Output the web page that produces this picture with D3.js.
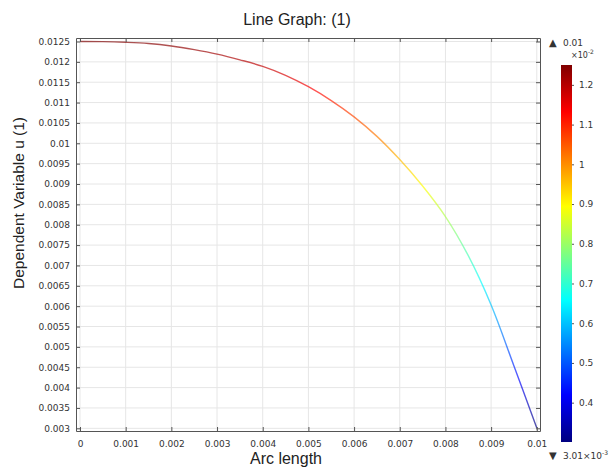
<!DOCTYPE html>
<html>
<head>
<meta charset="utf-8">
<script src="https://cdn.jsdelivr.net/npm/d3@7"></script>
<style>
  body { margin: 0; background: #fff; }
  text { font-family: "DejaVu Sans", sans-serif; fill: #333; }
  .big { font-family: "Liberation Sans", Arial, sans-serif; fill: #222; }
</style>
</head>
<body>
<div id="chart"></div>
<script>
// arc length (m) and dependent variable u
const arcLength = [0, 0.0005, 0.001, 0.0015, 0.002, 0.0025, 0.003, 0.0035, 0.004, 0.0045, 0.005,
                   0.0055, 0.006, 0.0065, 0.007, 0.0075, 0.008, 0.0085, 0.009, 0.0095, 0.01];
const uValues = [0.0125, 0.012497, 0.01248, 0.01245, 0.01239, 0.0123, 0.01219, 0.01205, 0.01189, 0.01167, 0.01139,
                 0.01105, 0.01065, 0.01017, 0.00960, 0.00895, 0.0082, 0.00724, 0.00603, 0.00453, 0.00301];

const xTicks = [0, 0.001, 0.002, 0.003, 0.004, 0.005, 0.006, 0.007, 0.008, 0.009, 0.01];
const yTicks = [0.003, 0.0035, 0.004, 0.0045, 0.005, 0.0055, 0.006, 0.0065, 0.007, 0.0075, 0.008,
                0.0085, 0.009, 0.0095, 0.01, 0.0105, 0.011, 0.0115, 0.012, 0.0125];
const barTicks = [0.004, 0.005, 0.006, 0.007, 0.008, 0.009, 0.01, 0.011, 0.012];
const barTickLabels = ["0.4", "0.5", "0.6", "0.7", "0.8", "0.9", "1", "1.1", "1.2"];
const uMin = 0.00301, uMax = 0.0125;

// jet-like colour table
const jetStops = [
  [0, "#000080"], [0.125, "#0000ff"], [0.375, "#00ffff"],
  [0.625, "#ffff00"], [0.875, "#ff0000"], [1, "#800000"]
];

const W = 614, H = 467;
const plot = { left: 76, right: 540, top: 38, bottom: 431 };

const svg = d3.select("#chart").append("svg")
  .attr("width", W).attr("height", H);

const x = d3.scaleLinear().domain([-0.0000875, 0.01007]).range([plot.left, plot.right]);
const y = d3.scaleLinear().domain([0.002934, 0.012586]).range([plot.bottom, plot.top]);

const defs = svg.append("defs");

// gradient used by the curve (colour follows u, which follows y)
const lineGrad = defs.append("linearGradient")
  .attr("id", "lineGrad").attr("gradientUnits", "userSpaceOnUse")
  .attr("x1", 0).attr("x2", 0).attr("y1", y(uMin)).attr("y2", y(uMax));
lineGrad.selectAll("stop").data(jetStops).enter().append("stop")
  .attr("offset", d => d[0]).attr("stop-color", d => d[1]);

// grid
svg.append("g").selectAll("line").data(xTicks).enter().append("line")
  .attr("x1", d => x(d)).attr("x2", d => x(d))
  .attr("y1", plot.top).attr("y2", plot.bottom)
  .attr("stroke", "#e6e6e6");
svg.append("g").selectAll("line").data(yTicks).enter().append("line")
  .attr("x1", plot.left).attr("x2", plot.right)
  .attr("y1", d => y(d)).attr("y2", d => y(d))
  .attr("stroke", "#e6e6e6");

// curve
const line = d3.line().x(d => x(d[0])).y(d => y(d[1])).curve(d3.curveCatmullRom);
svg.append("path")
  .datum(arcLength.map((s, i) => [s, uValues[i]]))
  .attr("d", line)
  .attr("fill", "none")
  .attr("stroke", "url(#lineGrad)")
  .attr("stroke-opacity", 0.68)
  .attr("stroke-width", 1.4);

// axes, ticks pointing inward
const fmt = d => d === 0 ? "0" : String(+d.toFixed(5));
svg.append("g").attr("transform", `translate(0,${plot.bottom})`)
  .call(d3.axisBottom(x).tickValues(xTicks).tickFormat(fmt).tickSizeInner(-4).tickSizeOuter(0).tickPadding(10));
svg.append("g").attr("transform", `translate(0,${plot.top})`)
  .call(d3.axisTop(x).tickValues(xTicks).tickFormat("").tickSizeInner(-4).tickSizeOuter(0));
svg.append("g").attr("transform", `translate(${plot.left},0)`)
  .call(d3.axisLeft(y).tickValues(yTicks).tickFormat(fmt).tickSizeInner(-4).tickSizeOuter(0).tickPadding(6));
svg.append("g").attr("transform", `translate(${plot.right},0)`)
  .call(d3.axisRight(y).tickValues(yTicks).tickFormat("").tickSizeInner(-4).tickSizeOuter(0));

svg.selectAll(".domain").attr("stroke", "#555");
svg.selectAll(".tick line").attr("stroke", "#555");
svg.selectAll(".tick text").attr("font-family", "DejaVu Sans, sans-serif")
  .attr("font-size", 9).attr("fill", "#333");

// titles
svg.append("text").attr("class", "big")
  .attr("x", 297).attr("y", 25).attr("text-anchor", "middle")
  .attr("font-size", 16).text("Line Graph: (1)");
svg.append("text").attr("class", "big")
  .attr("x", 286).attr("y", 464).attr("text-anchor", "middle")
  .attr("font-size", 16).text("Arc length");
svg.append("text").attr("class", "big")
  .attr("transform", "translate(24,203) rotate(-90)")
  .attr("text-anchor", "middle").attr("font-size", 15.5)
  .text("Dependent Variable u (1)");

// colour bar
const bar = { x: 561, w: 11, top: 65, bottom: 442 };
const cy = d3.scaleLinear().domain([uMin, uMax]).range([bar.bottom, bar.top]);
const barGrad = defs.append("linearGradient")
  .attr("id", "barGrad").attr("x1", 0).attr("x2", 0).attr("y1", 1).attr("y2", 0);
barGrad.selectAll("stop").data(jetStops).enter().append("stop")
  .attr("offset", d => d[0]).attr("stop-color", d => d[1]);
svg.append("rect")
  .attr("x", bar.x).attr("y", bar.top).attr("width", bar.w).attr("height", bar.bottom - bar.top)
  .attr("fill", "url(#barGrad)");

const barAxis = svg.append("g").attr("transform", `translate(${bar.x + bar.w},0)`)
  .call(d3.axisRight(cy).tickValues(barTicks).tickFormat((d, i) => barTickLabels[i])
    .tickSizeInner(2).tickSizeOuter(0).tickPadding(5));
barAxis.select(".domain").remove();
barAxis.selectAll(".tick line").attr("stroke", "#555");
barAxis.selectAll(".tick text").attr("font-family", "DejaVu Sans, sans-serif")
  .attr("font-size", 9).attr("fill", "#333");

// max / min annotations
svg.append("text").attr("x", 549).attr("y", 46).attr("font-size", 10).attr("fill", "#000").text("\u25B2");
svg.append("text").attr("x", 563).attr("y", 46).attr("font-size", 9).text("0.01");
svg.append("text").attr("x", 571).attr("y", 58).attr("font-size", 8)
  .html('\u00D710<tspan dy="-4" font-size="6">-2</tspan>');
svg.append("text").attr("x", 549).attr("y", 459).attr("font-size", 10).attr("fill", "#000").text("\u25BC");
svg.append("text").attr("x", 563).attr("y", 459).attr("font-size", 9)
  .html('3.01\u00D710<tspan dy="-4" font-size="6">-3</tspan>');
</script>
</body>
</html>
